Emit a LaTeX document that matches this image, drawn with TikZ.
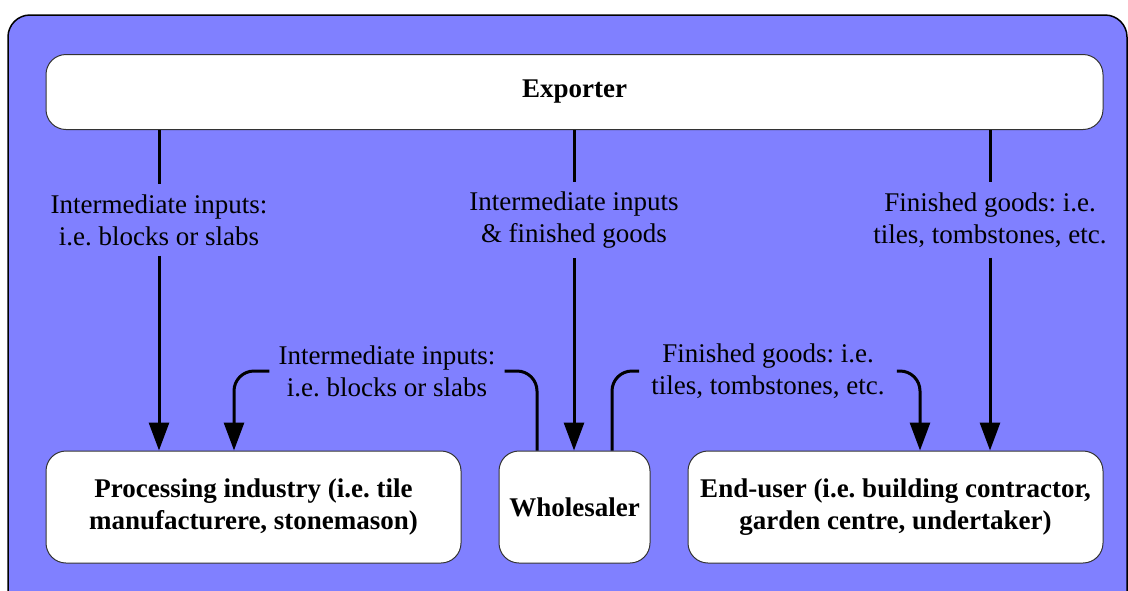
\documentclass[tikz,border=0pt]{standalone}
\usepackage{fontspec}
\setmainfont{Liberation Serif}
\usetikzlibrary{arrows.meta}
\definecolor{panelblue}{RGB}{128,128,255}
\frenchspacing

\begin{document}
\begin{tikzpicture}[x=1pt,y=-1pt,
    box/.style={draw=black!80, line width=1pt, fill=white, rounded corners=20pt,
        inner sep=0pt, align=center, minimum height=112pt,
        font=\fontsize{27}{32}\selectfont\bfseries},
    flowlabel/.style={align=center, inner xsep=9pt, inner ysep=10pt,
        font=\fontsize{27}{32}\selectfont},
    flow/.style={line width=3pt},
    flowarrow/.style={flow, -{Triangle[width=20pt,length=28pt]}}]

    \clip (0,0) rectangle (1128,590);
    \filldraw[panelblue, draw=black, line width=1.5pt, rounded corners=22pt] (8,15) rectangle (1127,640);

    \node[box, minimum width=1057pt, minimum height=75pt] (exporter) at (574.5,92) {Exporter};
    \node[box, minimum width=415pt] (processing) at (253.5,507) {Processing industry (i.e. tile\\ manufacturere, stonemason)};
    \node[box, minimum width=151pt] (wholesaler) at (574.5,507) {Wholesaler};
    \node[box, minimum width=415pt] (enduser) at (895.5,507) {End-user (i.e. building contractor,\\ garden centre, undertaker)};

    \node[flowlabel] (inputs) at (159,220) {Intermediate inputs:\\ i.e. blocks or slabs};
    \node[flowlabel] (mixed) at (574,220) {Intermediate inputs\\ \& finished goods};
    \node[flowlabel] (goods) at (990,220) {Finished goods: i.e.\\ tiles, tombstones, etc.};

    \draw[flow] (exporter.south -| inputs) -- (inputs);
    \draw[flowarrow] (inputs) -- (processing.north -| inputs);
    \draw[flow] (exporter.south -| mixed) -- (mixed);
    \draw[flowarrow] (mixed) -- (wholesaler.north -| mixed);
    \draw[flow] (exporter.south -| goods) -- (goods);
    \draw[flowarrow] (goods) -- (enduser.north -| goods);

    \node[flowlabel] (slabs) at (387,371) {Intermediate inputs:\\ i.e. blocks or slabs};
    \node[flowlabel, inner xsep=12pt] (tiles) at (768,371) {Finished goods: i.e.\\ tiles, tombstones, etc.};

    \draw[flow, rounded corners=20pt] ([xshift=-37.5pt]wholesaler.north) |- (slabs.east);
    \draw[flowarrow, rounded corners=20pt] (slabs.west) -| ([xshift=-19.5pt]processing.north);
    \draw[flow, rounded corners=20pt] ([xshift=37.5pt]wholesaler.north) |- (tiles.west);
    \draw[flowarrow, rounded corners=20pt] (tiles.east) -| ([xshift=24.5pt]enduser.north);

\end{tikzpicture}
\end{document}
